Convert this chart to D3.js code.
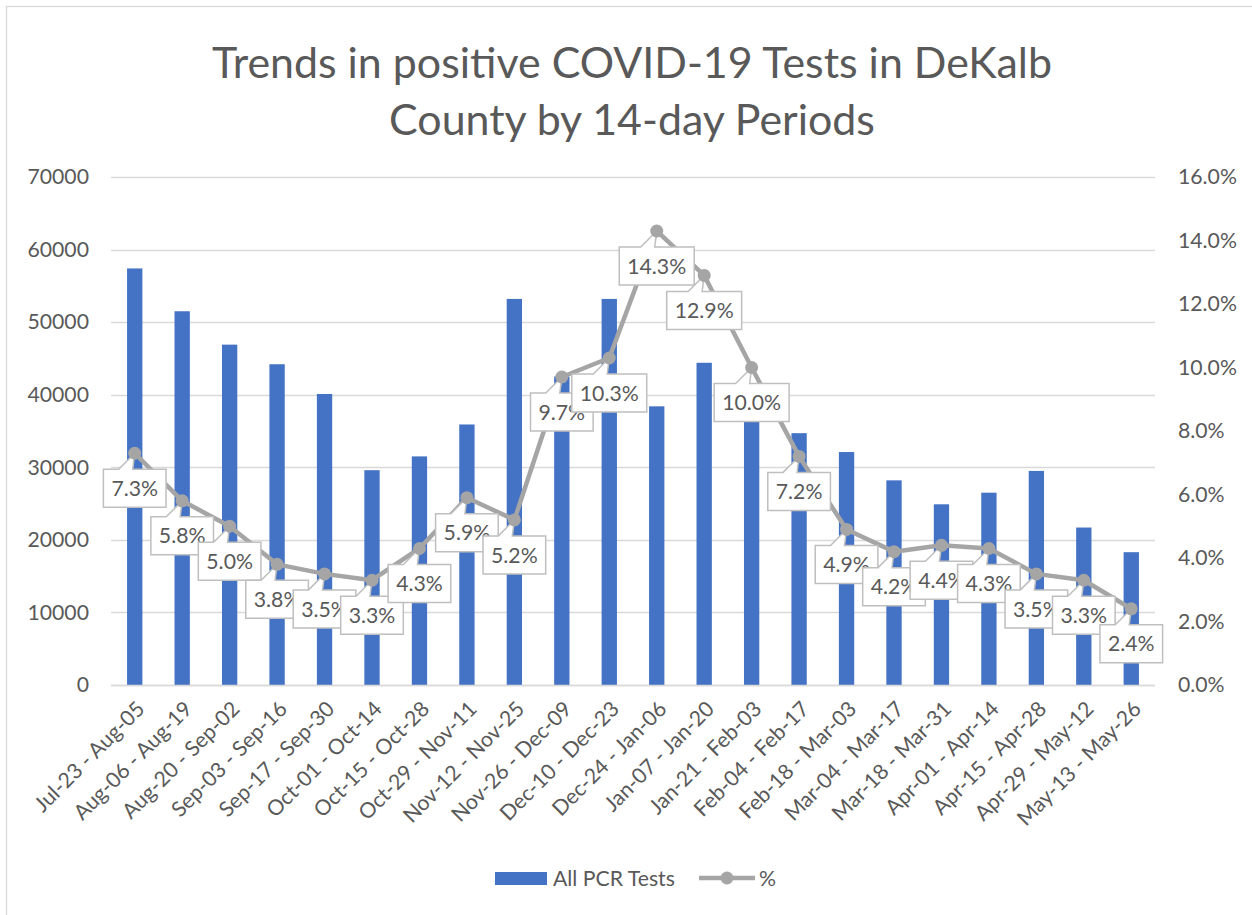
<!DOCTYPE html>
<html>
<head>
<meta charset="utf-8">
<script src="https://cdn.jsdelivr.net/npm/d3@7"></script>
<style>
  html, body { margin: 0; padding: 0; background: #fff; }
  svg { display: block; }
</style>
</head>
<body>
<svg id="chart" width="1252" height="915"></svg>
<script>
// ---- data ----
const categories = [
  "Jul-23 - Aug-05", "Aug-06 - Aug-19", "Aug-20 - Sep-02", "Sep-03 - Sep-16",
  "Sep-17 - Sep-30", "Oct-01 - Oct-14", "Oct-15 - Oct-28", "Oct-29 - Nov-11",
  "Nov-12 - Nov-25", "Nov-26 - Dec-09", "Dec-10 - Dec-23", "Dec-24 - Jan-06",
  "Jan-07 - Jan-20", "Jan-21 - Feb-03", "Feb-04 - Feb-17", "Feb-18 - Mar-03",
  "Mar-04 - Mar-17", "Mar-18 - Mar-31", "Apr-01 - Apr-14", "Apr-15 - Apr-28",
  "Apr-29 - May-12", "May-13 - May-26"
];
const pcrTests = [57400, 51500, 46900, 44200, 40100, 29600, 31500, 35900, 53200, 42500, 53200,
                  38400, 44400, 38500, 34700, 32100, 28200, 24900, 26500, 29500, 21700, 18300];
const positivePct = [7.3, 5.8, 5.0, 3.8, 3.5, 3.3, 4.3, 5.9, 5.2, 9.7, 10.3, 14.3,
                     12.9, 10.0, 7.2, 4.9, 4.2, 4.4, 4.3, 3.5, 3.3, 2.4];
const leftTicks = [0, 10000, 20000, 30000, 40000, 50000, 60000, 70000];
const rightTicks = [0, 2, 4, 6, 8, 10, 12, 14, 16];
const titleLines = ["Trends in positive COVID-19 Tests in DeKalb", "County by 14-day Periods"];
const seriesNames = ["All PCR Tests", "%"];

// ---- style ----
const FONT = "Lato, 'Open Sans', sans-serif";
const TEXT = "#595959", GRID = "#D9D9D9", BAR = "#4472C4", LINE = "#A5A5A5";

const svg = d3.select("#chart");

function measure(str, size, weight) {
  const t = svg.append("text").attr("font-family", FONT).attr("font-size", size)
    .attr("font-weight", weight || 400).text(str);
  const w = t.node().getComputedTextLength();
  t.remove();
  return w;
}
const smallSize = 20 * 122 / measure("All PCR Tests", 20);
const titleSize = 40 * 840 / measure(titleLines[0], 40, 400);

// frame
svg.append("rect").attr("x", 6.5).attr("y", 6.5).attr("width", 1260).attr("height", 920)
  .attr("fill", "none").attr("stroke", GRID).attr("stroke-width", 1.3);

const plot = { left: 111, right: 1155, top: 177, bottom: 685 };

const x = d3.scaleBand().domain(categories).range([plot.left, plot.right])
  .paddingInner(0.677).paddingOuter(0.677 / 2);
const y = d3.scaleLinear().domain([0, 70000]).range([plot.bottom, plot.top]);
const y2 = d3.scaleLinear().domain([0, 16]).range([plot.bottom, plot.top]);

// title
svg.append("g").selectAll("text").data(titleLines).join("text")
  .attr("x", 632).attr("y", (d, i) => 78 + i * 57)
  .attr("text-anchor", "middle").attr("font-family", FONT).attr("font-weight", 400)
  .attr("font-size", titleSize).attr("fill", TEXT).text(d => d);

// gridlines
svg.append("g").selectAll("line").data(leftTicks).join("line")
  .attr("x1", plot.left).attr("x2", plot.right)
  .attr("y1", d => Math.round(y(d)) + 0.5).attr("y2", d => Math.round(y(d)) + 0.5)
  .attr("stroke", GRID).attr("stroke-width", 1.3);

// left axis
const yAxis = d3.axisLeft(y).tickValues(leftTicks).tickSize(0).tickPadding(22).tickFormat(d3.format("d"));
const gy = svg.append("g").attr("transform", `translate(${plot.left},0)`).call(yAxis);
gy.select(".domain").remove();
gy.selectAll("text").attr("font-family", FONT).attr("font-size", smallSize).attr("fill", TEXT);

// right axis
const y2Axis = d3.axisRight(y2).tickValues(rightTicks).tickSize(0).tickPadding(23).tickFormat(d => d.toFixed(1) + "%");
const gy2 = svg.append("g").attr("transform", `translate(${plot.right},0)`).call(y2Axis);
gy2.select(".domain").remove();
gy2.selectAll("text").attr("font-family", FONT).attr("font-size", smallSize).attr("fill", TEXT);

// bars
svg.append("g").selectAll("rect").data(categories).join("rect")
  .attr("x", d => x(d)).attr("width", x.bandwidth())
  .attr("y", (d, i) => y(pcrTests[i])).attr("height", (d, i) => y(0) - y(pcrTests[i]))
  .attr("fill", BAR);

// x axis
const xAxis = d3.axisBottom(x).tickSize(0).tickPadding(0);
const gx = svg.append("g").attr("transform", `translate(0,${plot.bottom})`).call(xAxis);
gx.select(".domain").attr("stroke", GRID).attr("stroke-width", 1.3)
  .attr("d", `M${plot.left},0.5H${plot.right}`);
gx.selectAll(".tick text").attr("font-family", FONT).attr("font-size", smallSize).attr("fill", TEXT)
  .attr("text-anchor", "end").attr("dy", "0.35em")
  .attr("transform", "translate(6,20) rotate(-45)");

// line
const cx = (d, i) => x(categories[i]) + x.bandwidth() / 2;
const line = d3.line().x((d, i) => cx(d, i)).y(d => y2(d));
svg.append("path").datum(positivePct).attr("d", line)
  .attr("fill", "none").attr("stroke", LINE).attr("stroke-width", 4.5).attr("stroke-linejoin", "round");

// data label callouts
const labels = svg.append("g");
positivePct.forEach((v, i) => {
  const px = cx(v, i), py = y2(v);
  const txt = v.toFixed(1) + "%";
  const tw = measure(txt, smallSize);
  const w = tw + 16, h = 38;
  const lx = px - w / 2, ty = py + 16;
  const b1 = px - 16, b2 = px - 2;
  const path = `M${lx},${ty}H${b1}L${px},${py}L${b2},${ty}H${lx + w}V${ty + h}H${lx}Z`;
  labels.append("path").attr("d", path).attr("fill", "#fff").attr("stroke", "#BFBFBF").attr("stroke-width", 1.5);
  labels.append("text").attr("x", px).attr("y", ty + h / 2).attr("dy", "0.36em")
    .attr("text-anchor", "middle").attr("font-family", FONT).attr("font-size", smallSize)
    .attr("fill", TEXT).text(txt);
});

// markers (on top)
svg.append("g").selectAll("circle").data(positivePct).join("circle")
  .attr("cx", (d, i) => cx(d, i)).attr("cy", d => y2(d)).attr("r", 6.5).attr("fill", LINE);

// legend
const lg = svg.append("g");
lg.append("rect").attr("x", 495).attr("y", 872).attr("width", 52).attr("height", 13).attr("fill", BAR);
lg.append("text").attr("x", 553).attr("y", 878).attr("dy", "0.36em").attr("font-family", FONT)
  .attr("font-size", smallSize).attr("fill", TEXT).text(seriesNames[0]);
lg.append("line").attr("x1", 699).attr("x2", 755).attr("y1", 878).attr("y2", 878)
  .attr("stroke", LINE).attr("stroke-width", 4.5);
lg.append("circle").attr("cx", 727).attr("cy", 878).attr("r", 6.5).attr("fill", LINE);
lg.append("text").attr("x", 759).attr("y", 878).attr("dy", "0.36em").attr("font-family", FONT)
  .attr("font-size", smallSize).attr("fill", TEXT).text(seriesNames[1]);
</script>
</body>
</html>
